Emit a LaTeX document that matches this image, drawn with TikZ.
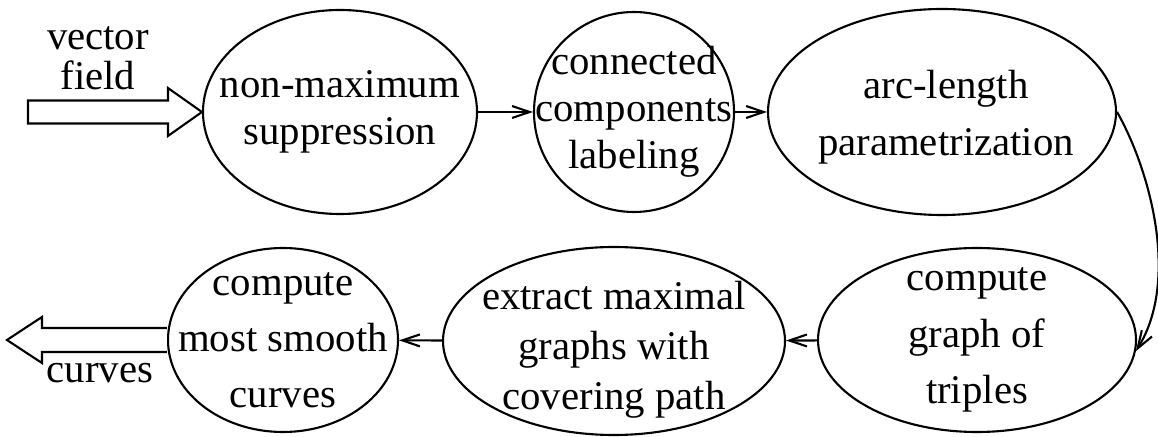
\documentclass[tikz,border=0pt]{standalone}
\usepackage{fontspec}
\setmainfont{Liberation Serif}
\usetikzlibrary{shapes.geometric, arrows.meta}

\newcommand{\setlead}[1]{\fontsize{11.6}{#1}\selectfont}

\tikzset{
  stage/.style={ellipse, draw, inner sep=0pt},
  stagetext/.style={align=center, inner sep=0pt},
  iolabel/.style={font=\setlead{13}, anchor=base, inner sep=0pt},
  flow/.style={-{Straight Barb[length=5pt,width=3.4pt]}},
  bigarrow/.style={draw, fill=white, line width=0.6pt},
}

\begin{document}
\begin{tikzpicture}[line width=0.6pt]
  \useasboundingbox (0,0) rectangle (11.58,4.36);
  % top row
  \node[stage, minimum width=2.74cm, minimum height=2.04cm] (nms) at (3.40,3.24) {};
  \node[stagetext, font=\setlead{13.4}] (nmsText) at (nms) {non-maximum\\suppression};
  \node[stage, minimum width=2.00cm, minimum height=2.00cm] (ccl) at (6.34,3.24) {};
  \node[stagetext, font=\setlead{13.4}] (cclText) at (ccl) {connected\\components\\labeling};
  \node[stage, minimum width=3.48cm, minimum height=2.06cm] (arc) at (9.42,3.24) {};
  \node[stagetext, font=\setlead{16.2}] (arcText) at (9.46,3.19) {arc-length\\parametrization};
  % bottom row
  \node[stage, minimum width=3.18cm, minimum height=1.84cm] (triples) at (9.77,0.96) {};
  \node[stagetext, font=\setlead{16}] (triplesText) at (triples) {compute\\graph of\\triples};
  \node[stage, minimum width=3.42cm, minimum height=1.88cm] (extract) at (6.14,0.95) {};
  \node[stagetext, font=\setlead{14.2}] (extractText) at (6.14,0.86) {extract maximal\\graphs with\\covering path};
  \node[stage, minimum width=2.30cm, minimum height=1.84cm] (smooth) at (2.83,0.96) {};
  \node[stagetext, font=\setlead{16}] (smoothText) at (smooth) {compute\\most smooth\\curves};
  % labels of the in/out arrows
  \node[iolabel] (inlblA) at (0.98,3.86) {vector};
  \node[iolabel] (inlblB) at (0.98,3.46) {field};
  \node[iolabel] (outlbl) at (1.00,0.53) {curves};
  % input arrow
  \coordinate (inTip) at (nms.west);
  \draw[bigarrow] (inTip) -- ++(-0.34,0.24) -- ++(0,-0.125) -- ++(-1.40,0)
    -- ++(0,-0.23) -- ++(1.40,0) -- ++(0,-0.125) -- cycle;
  % output arrow
  \coordinate (outBase) at (smooth.west);
  \draw[bigarrow] (outBase) ++(0,0.12) -- ++(-1.25,0) -- ++(0,0.11) -- ++(-0.35,-0.23)
    -- ++(0.35,-0.23) -- ++(0,0.11) -- ++(1.25,0);
  % flow between stages
  \draw[flow] (nms) -- (ccl);
  \draw[flow] (ccl) -- (arc);
  \draw[flow] (arc.east) .. controls (11.50,2.66) and (11.80,1.56) .. (triples.-4);
  \draw[flow] (triples) -- (extract);
  \draw[flow] (extract) -- (smooth);
\end{tikzpicture}
\end{document}
